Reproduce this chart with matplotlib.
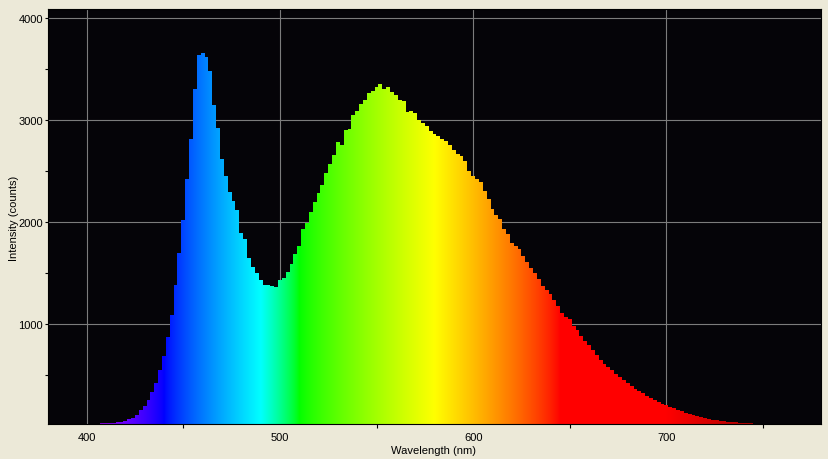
import numpy as np
import matplotlib
matplotlib.use('Agg')
import matplotlib.pyplot as plt
from matplotlib.patches import Polygon
from matplotlib.ticker import MultipleLocator

# spectrum, one value per 2 nm bin starting at 380 nm
counts = [
    10, 10, 10, 10, 10, 10, 10, 10, 10, 10, 10, 10, 10, 10,          # 380-406
    22, 25, 27, 30, 34, 40, 49, 62, 78, 110, 150, 195, 250, 330,     # 408-434
    420, 550, 680, 870, 1090, 1380, 1700, 2020, 2420, 2810,          # 436-454
    3300, 3640, 3660, 3620, 3480, 3150, 2920, 2620, 2450, 2290,      # 456-474
    2210, 2120, 1890, 1830, 1650, 1560, 1500, 1430, 1380, 1380,      # 476-494
    1370, 1360, 1430, 1450, 1510, 1590, 1690, 1760, 1930, 1990,      # 496-514
    2100, 2200, 2280, 2360, 2480, 2570, 2660, 2780, 2760, 2900,      # 516-534
    2910, 3050, 3090, 3160, 3200, 3270, 3290, 3320, 3350, 3300,      # 536-554
    3320, 3280, 3250, 3200, 3190, 3080, 3090, 3070, 3000, 2970,      # 556-574
    2940, 2890, 2860, 2840, 2810, 2790, 2760, 2710, 2670, 2650,      # 576-594
    2600, 2500, 2450, 2420, 2395, 2300, 2230, 2130, 2070, 2030,      # 596-614
    1930, 1880, 1790, 1760, 1730, 1670, 1610, 1550, 1500, 1440,      # 616-634
    1370, 1330, 1290, 1230, 1180, 1110, 1070, 1045, 975, 935,        # 636-654
    880, 830, 790, 740, 695, 650, 607, 580, 545, 510,                # 656-674
    475, 445, 420, 390, 362, 345, 318, 292, 270, 253,                # 676-694
    235, 213, 200, 188, 173, 155, 140, 126, 115, 102,                # 696-714
    93, 84, 76, 68, 60, 54, 48, 43, 40, 35,                          # 716-734
    32, 29, 27, 25, 23, 20,                                          # 736-746
    14, 14, 14, 14, 14, 14, 14, 14, 14, 14, 14, 14, 14, 14, 14, 14, 14,  # 748-780
]
bin_nm = 2
wavelength = 380 + bin_nm * np.arange(len(counts))

x_ticks = [400, 500, 600, 700]
y_ticks = [1000, 2000, 3000, 4000]
x_range = (380, 780)
y_range = (17, 4090)


def wl_to_rgb(w, gamma=0.8):
    # Bruton style visible-spectrum colour
    if w < 440:
        r, g, b = -(w - 440) / 60, 0.0, 1.0
    elif w < 490:
        r, g, b = 0.0, (w - 440) / 50, 1.0
    elif w < 510:
        r, g, b = 0.0, 1.0, -(w - 510) / 20
    elif w < 580:
        r, g, b = (w - 510) / 70, 1.0, 0.0
    elif w < 645:
        r, g, b = 1.0, -(w - 645) / 65, 0.0
    else:
        r, g, b = 1.0, 0.0, 0.0
    if w < 420:
        f = 0.3 + 0.7 * (w - 380) / 40
    elif w > 700:
        f = 0.3 + 0.7 * (780 - w) / 80
    else:
        f = 1.0
    return [(c * f) ** gamma if c > 0 else 0.0 for c in (r, g, b)]


bg = '#ECE9D8'
fig = plt.figure(figsize=(8.29, 4.60), dpi=100, facecolor=bg)
ax = fig.add_axes([48 / 829, 35 / 460, 773 / 829, 415 / 460])
ax.set_facecolor('#050408')

# colour strip across the whole range, clipped to the spectrum outline
strip_wl = np.linspace(x_range[0], x_range[1], 1601)
strip = np.array([wl_to_rgb(w) for w in strip_wl])[np.newaxis, :, :]
im = ax.imshow(strip, extent=[x_range[0], x_range[1], 0, y_range[1]],
               aspect='auto', interpolation='bilinear', zorder=2)

verts = [(wavelength[0] - bin_nm / 2, 0)]
for w, c in zip(wavelength, counts):
    verts.append((w - bin_nm / 2, c))
    verts.append((w + bin_nm / 2, c))
verts.append((wavelength[-1] + bin_nm / 2, 0))
outline = Polygon(verts, closed=True, facecolor='none', edgecolor='none',
                  transform=ax.transData)
ax.add_patch(outline)
im.set_clip_path(outline)

ax.set_xlim(*x_range)
ax.set_ylim(*y_range)

ax.set_xticks(x_ticks)
ax.set_yticks(y_ticks)
ax.xaxis.set_minor_locator(MultipleLocator(50))
ax.yaxis.set_minor_locator(MultipleLocator(500))
ax.grid(True, which='major', color='#7c7c7c', linewidth=0.8, zorder=1)
ax.set_axisbelow(True)

tick_font = dict(family='Liberation Sans', size=8)
ax.set_xticklabels([str(t) for t in x_ticks], **tick_font)
ax.set_yticklabels([str(t) for t in y_ticks], **tick_font)
ax.tick_params(axis='x', which='major', length=0, pad=5.5, colors='black')
ax.tick_params(axis='x', which='minor', length=3, width=0.8, direction='out')
ax.tick_params(axis='y', which='both', length=2.5, width=0.8, pad=1.2,
               direction='out')
for s in ax.spines.values():
    s.set_color('black')
    s.set_linewidth(0.8)

fig.text(434 / 829, 1 - 451 / 460, 'Wavelength (nm)', ha='center', va='center',
         **tick_font)
fig.text(14 / 829, 1 - 218 / 460, 'Intensity (counts)', ha='center',
         va='center', rotation=90, **tick_font)

fig.savefig('out.png', dpi=100, facecolor=bg)
